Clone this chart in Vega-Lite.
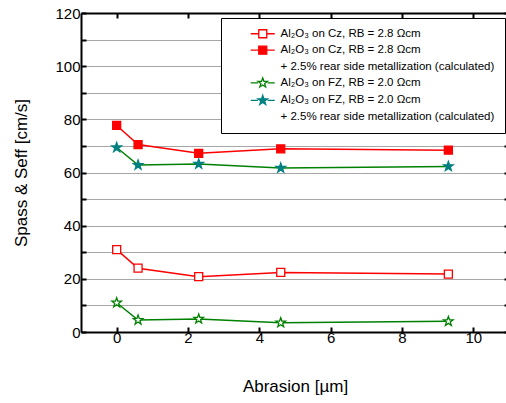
{
  "$schema": "https://vega.github.io/schema/vega-lite/v6.json",
  "width": 428,
  "height": 319,
  "autosize": {"type": "none"},
  "padding": {"left": 81, "top": 13, "right": 0, "bottom": 71},
  "config": {
    "font": "Liberation Sans",
    "view": {"stroke": null},
    "axis": {"labelFont": "Liberation Sans", "titleFont": "Liberation Sans", "labelColor": "#000", "titleColor": "#000"}
  },
  "data": {
    "values": [
      {"series": "Cz", "abrasion": 0, "s": 31.0},
      {"series": "Cz", "abrasion": 0.6, "s": 24.0},
      {"series": "Cz", "abrasion": 2.3, "s": 20.8},
      {"series": "Cz", "abrasion": 4.6, "s": 22.4},
      {"series": "Cz", "abrasion": 9.3, "s": 21.8},
      {"series": "CzM", "abrasion": 0, "s": 77.7},
      {"series": "CzM", "abrasion": 0.6, "s": 70.5},
      {"series": "CzM", "abrasion": 2.3, "s": 67.2},
      {"series": "CzM", "abrasion": 4.6, "s": 68.9},
      {"series": "CzM", "abrasion": 9.3, "s": 68.4},
      {"series": "FZ", "abrasion": 0, "s": 11.0},
      {"series": "FZ", "abrasion": 0.6, "s": 4.5},
      {"series": "FZ", "abrasion": 2.3, "s": 4.9},
      {"series": "FZ", "abrasion": 4.6, "s": 3.5},
      {"series": "FZ", "abrasion": 9.3, "s": 4.0},
      {"series": "FZM", "abrasion": 0, "s": 69.4},
      {"series": "FZM", "abrasion": 0.6, "s": 62.8},
      {"series": "FZM", "abrasion": 2.3, "s": 63.2},
      {"series": "FZM", "abrasion": 4.6, "s": 61.7},
      {"series": "FZM", "abrasion": 9.3, "s": 62.3}
    ]
  },
  "layer": [
    {
      "mark": {"type": "line", "strokeWidth": 1.5},
      "encoding": {
        "x": {
          "field": "abrasion", "type": "quantitative",
          "scale": {"domain": [-1, 11], "nice": false, "zero": false},
          "axis": {
            "title": "Abrasion [µm]", "titleFontSize": 17, "titleFontWeight": "normal", "titlePadding": 33,
            "values": [0, 2, 4, 6, 8, 10], "labelFontSize": 15, "labelPadding": 3,
            "tickSize": -5, "tickColor": "#000", "tickWidth": 2, "domainColor": "#000", "domainWidth": 2,
            "grid": false
          }
        },
        "y": {
          "field": "s", "type": "quantitative",
          "scale": {"domain": [0, 120], "nice": false},
          "axis": {
            "title": "Spass & Seff [cm/s]", "titleFontSize": 17, "titleFontWeight": "normal", "titlePadding": 24,
            "values": [0, 10, 20, 30, 40, 50, 60, 70, 80, 90, 100, 110, 120],
            "labelExpr": "datum.value % 20 == 0 ? datum.label : ''",
            "labelFontSize": 15, "labelPadding": 6,
            "tickSize": -5, "tickColor": "#000", "tickWidth": 2, "domainColor": "#000", "domainWidth": 2,
            "grid": true, "gridColor": "#a6a6a6", "gridWidth": 1
          }
        },
        "color": {
          "field": "series", "type": "nominal",
          "scale": {"domain": ["Cz", "CzM", "FZ", "FZM"], "range": ["#ff0000", "#ff0000", "#008000", "#008000"]},
          "legend": null
        }
      }
    },
    {
      "mark": {"type": "point", "filled": true, "size": 64, "strokeWidth": 1.3, "opacity": 1},
      "encoding": {
        "x": {
          "field": "abrasion", "type": "quantitative",
          "scale": {"domain": [-1, 11], "nice": false, "zero": false},
          "axis": {"orient": "top", "labels": false, "title": null, "values": [0, 2, 4, 6, 8, 10], "tickSize": -5, "tickColor": "#000", "tickWidth": 2, "domainColor": "#000", "domainWidth": 2, "grid": false}
        },
        "y": {
          "field": "s", "type": "quantitative",
          "scale": {"domain": [0, 120], "nice": false},
          "axis": {"orient": "right", "labels": false, "title": null, "values": [0, 10, 20, 30, 40, 50, 60, 70, 80, 90, 100, 110, 120], "tickSize": -5, "tickColor": "#000", "tickWidth": 2, "domainColor": "#000", "domainWidth": 2, "grid": false}
        },
        "shape": {
          "field": "series", "type": "nominal", "legend": null,
          "scale": {
            "domain": ["Cz", "CzM", "FZ", "FZM"],
            "range": ["square", "square", "M0,-1.25L0.294,-0.405L1.189,-0.386L0.475,0.155L0.735,1.011L0,0.5L-0.735,1.011L-0.475,0.155L-1.189,-0.386L-0.294,-0.405Z", "M0,-1.25L0.294,-0.405L1.189,-0.386L0.475,0.155L0.735,1.011L0,0.5L-0.735,1.011L-0.475,0.155L-1.189,-0.386L-0.294,-0.405Z"]
          }
        },
        "fill": {
          "field": "series", "type": "nominal", "legend": null,
          "scale": {"domain": ["Cz", "CzM", "FZ", "FZM"], "range": ["#ffffff", "#ff0000", "#ffffff", "#008080"]}
        },
        "stroke": {
          "field": "series", "type": "nominal", "legend": null,
          "scale": {"domain": ["Cz", "CzM", "FZ", "FZM"], "range": ["#ff0000", "#ff0000", "#008000", "#008080"]}
        }
      }
    },
    {
      "transform": [{"filter": "datum.abrasion < -100"}],
      "mark": {"type": "point", "filled": true, "size": 64, "strokeWidth": 1.3, "opacity": 1},
      "encoding": {
        "x": {"field": "abrasion", "type": "quantitative", "scale": {"domain": [-1, 11], "nice": false, "zero": false}, "axis": null},
        "y": {"field": "s", "type": "quantitative", "scale": {"domain": [0, 120], "nice": false}, "axis": null},
        "shape": {
          "field": "series", "type": "nominal", "title": null,
          "scale": {
            "domain": ["Cz", "CzM", "CzN", "FZ", "FZM", "FZN"],
            "range": ["M3.5,0H5.5M7.5,0H9.5M5.5,-1H7.5V1H5.5Z", "M3.5,0H5.5M7.5,0H9.5M5.5,-1H7.5V1H5.5Z", "M0,0", "M3.5,0H5.3M7.7,0H9.5M6.5,-1.25L6.794,-0.405L7.689,-0.386L6.975,0.155L7.235,1.011L6.5,0.5L5.765,1.011L6.025,0.155L5.311,-0.386L6.206,-0.405Z", "M3.5,0H5.3M7.7,0H9.5M6.5,-1.25L6.794,-0.405L7.689,-0.386L6.975,0.155L7.235,1.011L6.5,0.5L5.765,1.011L6.025,0.155L5.311,-0.386L6.206,-0.405Z", "M0,0"]
          },
          "legend": {
            "orient": "none", "legendX": 140, "legendY": 5,
            "padding": 10, "fillColor": "#ffffff", "strokeColor": "#000000",
            "labelFont": "Liberation Sans", "labelFontSize": 11.5, "labelColor": "#000", "labelOffset": 38, "labelLimit": 400,
            "rowPadding": 2.4, "symbolSize": 64, "symbolStrokeWidth": 1.3,
            "labelExpr": "datum.value == 'Cz' || datum.value == 'CzM' ? 'Al₂O₃ on Cz, RB = 2.8 Ωcm' : (datum.value == 'FZ' || datum.value == 'FZM') ? 'Al₂O₃ on FZ, RB = 2.0 Ωcm' : '+ 2.5% rear side metallization (calculated)'"
          }
        },
        "fill": {
          "field": "series", "type": "nominal", "title": null,
          "scale": {"domain": ["Cz", "CzM", "CzN", "FZ", "FZM", "FZN"], "range": ["#ffffff", "#ff0000", "transparent", "#ffffff", "#008080", "transparent"]}
        },
        "stroke": {
          "field": "series", "type": "nominal", "title": null,
          "scale": {"domain": ["Cz", "CzM", "CzN", "FZ", "FZM", "FZN"], "range": ["#ff0000", "#ff0000", "transparent", "#008000", "#008080", "transparent"]}
        }
      }
    }
  ],
  "resolve": {
    "scale": {"shape": "independent", "fill": "independent", "stroke": "independent"},
    "axis": {"x": "independent", "y": "independent"}
  }
}
